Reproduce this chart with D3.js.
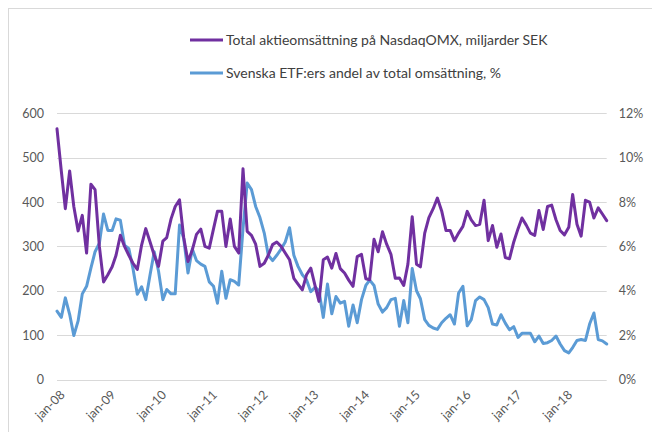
<!DOCTYPE html>
<html>
<head>
<meta charset="utf-8">
<script src="https://cdn.jsdelivr.net/npm/d3@7"></script>
<style>
  html, body { margin: 0; padding: 0; background: #fff; }
  svg { display: block; }
  text { font-family: Lato, "Open Sans", sans-serif; }
</style>
</head>
<body>
<svg id="chart" width="652" height="432"></svg>
<script>
// ---- data ----
const startMonth = "2008-01";
const seriesNames = [
  "Total aktieomsättning på NasdaqOMX, miljarder SEK",
  "Svenska ETF:ers andel av total omsättning, %"
];
// monthly turnover, billion SEK (left axis)
const turnover = [
  565,470,385,470,390,335,370,285,440,428,
  300,220,236,254,280,325,300,280,262,248,
  303,340,310,280,255,312,320,362,390,405,
  320,266,292,327,339,300,296,340,379,379,
  300,362,300,285,475,334,325,305,255,262,
  280,304,310,300,285,270,228,215,202,236,
  251,211,176,270,276,251,284,250,240,224,
  210,277,282,227,225,316,288,333,305,282,
  228,229,212,260,367,260,254,330,365,385,
  409,380,336,336,313,330,345,379,360,347,
  350,404,313,347,298,328,275,272,310,340,
  364,348,330,325,381,338,390,393,360,336,
  326,343,417,350,323,404,400,364,387,373,
  358
];
// ETF share of total turnover, % (right axis)
const etfShare = [
  3.08,2.80,3.68,2.94,1.98,2.64,3.86,4.20,5.02,5.76,
  6.14,7.46,6.72,6.72,7.24,7.18,6.06,5.90,5.00,3.84,
  4.18,3.60,4.72,5.76,4.88,3.60,4.06,3.86,3.86,6.96,
  6.36,4.80,5.88,5.36,5.20,5.10,4.40,4.20,3.44,4.88,
  3.66,4.50,4.42,4.26,6.80,8.86,8.56,7.80,7.30,6.60,
  5.60,5.36,5.60,5.88,6.20,6.84,5.60,5.10,4.72,4.50,
  3.96,4.16,4.00,2.80,4.30,2.96,3.74,3.44,3.52,2.40,
  3.36,2.56,3.60,4.24,4.48,4.24,3.40,3.04,3.24,3.60,
  3.66,2.40,3.56,2.56,5.00,4.00,3.64,2.70,2.44,2.32,
  2.26,2.56,2.76,2.92,2.50,3.90,4.20,2.42,2.70,3.56,
  3.72,3.60,3.24,2.50,2.46,2.92,2.54,2.24,2.38,1.90,
  2.08,2.08,2.08,1.70,1.96,1.62,1.66,1.76,1.96,1.60,
  1.30,1.20,1.44,1.76,1.80,1.76,2.50,3.00,1.80,1.74,
  1.60
];
const leftTicks = [0,100,200,300,400,500,600];
const rightTicks = [0,2,4,6,8,10,12];
const xTickLabels = ["jan-08","jan-09","jan-10","jan-11","jan-12","jan-13","jan-14","jan-15","jan-16","jan-17","jan-18"];
const colors = ["#7030a0", "#5b9bd5"];

// ---- layout ----
const svg = d3.select("#chart");
const plot = { left: 57, right: 606.7, top: 113.3, bottom: 379.5 };

const parseMonth = d3.timeParse("%Y-%m");
const t0 = parseMonth(startMonth);
const dates = turnover.map((_, i) => d3.timeMonth.offset(t0, i));
const tickDates = xTickLabels.map((_, i) => d3.timeYear.offset(t0, i));

const x = d3.scaleTime().domain([dates[0], dates[dates.length - 1]]).range([plot.left, plot.right]);
const yL = d3.scaleLinear().domain([0, 600]).range([plot.bottom, plot.top]);
const yR = d3.scaleLinear().domain([0, 12]).range([plot.bottom, plot.top]);

// outer border (Excel chart area)
svg.append("rect").attr("x", 8.5).attr("y", 8.5).attr("width", 700).attr("height", 500)
  .attr("fill", "none").attr("stroke", "#d9d9d9").attr("stroke-width", 1);

// gridlines
svg.append("g").selectAll("line").data(leftTicks).join("line")
  .attr("x1", plot.left).attr("x2", plot.right)
  .attr("y1", d => Math.round(yL(d)) + 0.5).attr("y2", d => Math.round(yL(d)) + 0.5)
  .attr("stroke", "#d9d9d9").attr("stroke-width", 1);

// left axis
const axL = svg.append("g").attr("transform", `translate(${plot.left},0)`)
  .call(d3.axisLeft(yL).tickValues(leftTicks).tickSize(0).tickPadding(13));
axL.select(".domain").remove();
axL.selectAll("text").attr("fill", "#595959").style("font-size", "12.5px").style("font-family", "Lato, sans-serif");

// right axis
const axR = svg.append("g").attr("transform", `translate(${plot.right},0)`)
  .call(d3.axisRight(yR).tickValues(rightTicks).tickSize(0).tickPadding(12).tickFormat(d => d + "%"));
axR.select(".domain").remove();
axR.selectAll("text").attr("fill", "#595959").style("font-size", "12.5px").style("font-family", "Lato, sans-serif");

// bottom axis
const axB = svg.append("g").attr("transform", `translate(0,${plot.bottom})`)
  .call(d3.axisBottom(x).tickValues(tickDates).tickSize(0).tickFormat((d, i) => xTickLabels[i]));
axB.select(".domain").remove();
axB.selectAll("text")
  .attr("fill", "#595959").style("font-size", "12.5px").style("font-family", "Lato, sans-serif")
  .attr("text-anchor", "end")
  .attr("dy", "0.35em")
  .attr("transform", "translate(5,13) rotate(-45)")
  .attr("y", 0).attr("x", 0);

// lines
const lineL = d3.line().x((d, i) => x(dates[i])).y(d => yL(d)).curve(d3.curveLinear);
const lineR = d3.line().x((d, i) => x(dates[i])).y(d => yR(d)).curve(d3.curveLinear);

svg.append("path").datum(etfShare).attr("d", lineR)
  .attr("fill", "none").attr("stroke", colors[1]).attr("stroke-width", 3)
  .attr("stroke-linejoin", "round").attr("stroke-linecap", "round");
svg.append("path").datum(turnover).attr("d", lineL)
  .attr("fill", "none").attr("stroke", colors[0]).attr("stroke-width", 3)
  .attr("stroke-linejoin", "round").attr("stroke-linecap", "round");

// legend
const legend = svg.append("g");
const legY = [40, 73];
seriesNames.forEach((name, i) => {
  legend.append("line").attr("x1", 190).attr("x2", 223).attr("y1", legY[i]).attr("y2", legY[i])
    .attr("stroke", colors[i]).attr("stroke-width", 3);
  legend.append("text").attr("x", 226).attr("y", legY[i]).attr("dy", "0.35em")
    .attr("fill", "#404040").style("font-size", "14px").style("font-family", "Lato, sans-serif")
    .text(name);
});
</script>
</body>
</html>
